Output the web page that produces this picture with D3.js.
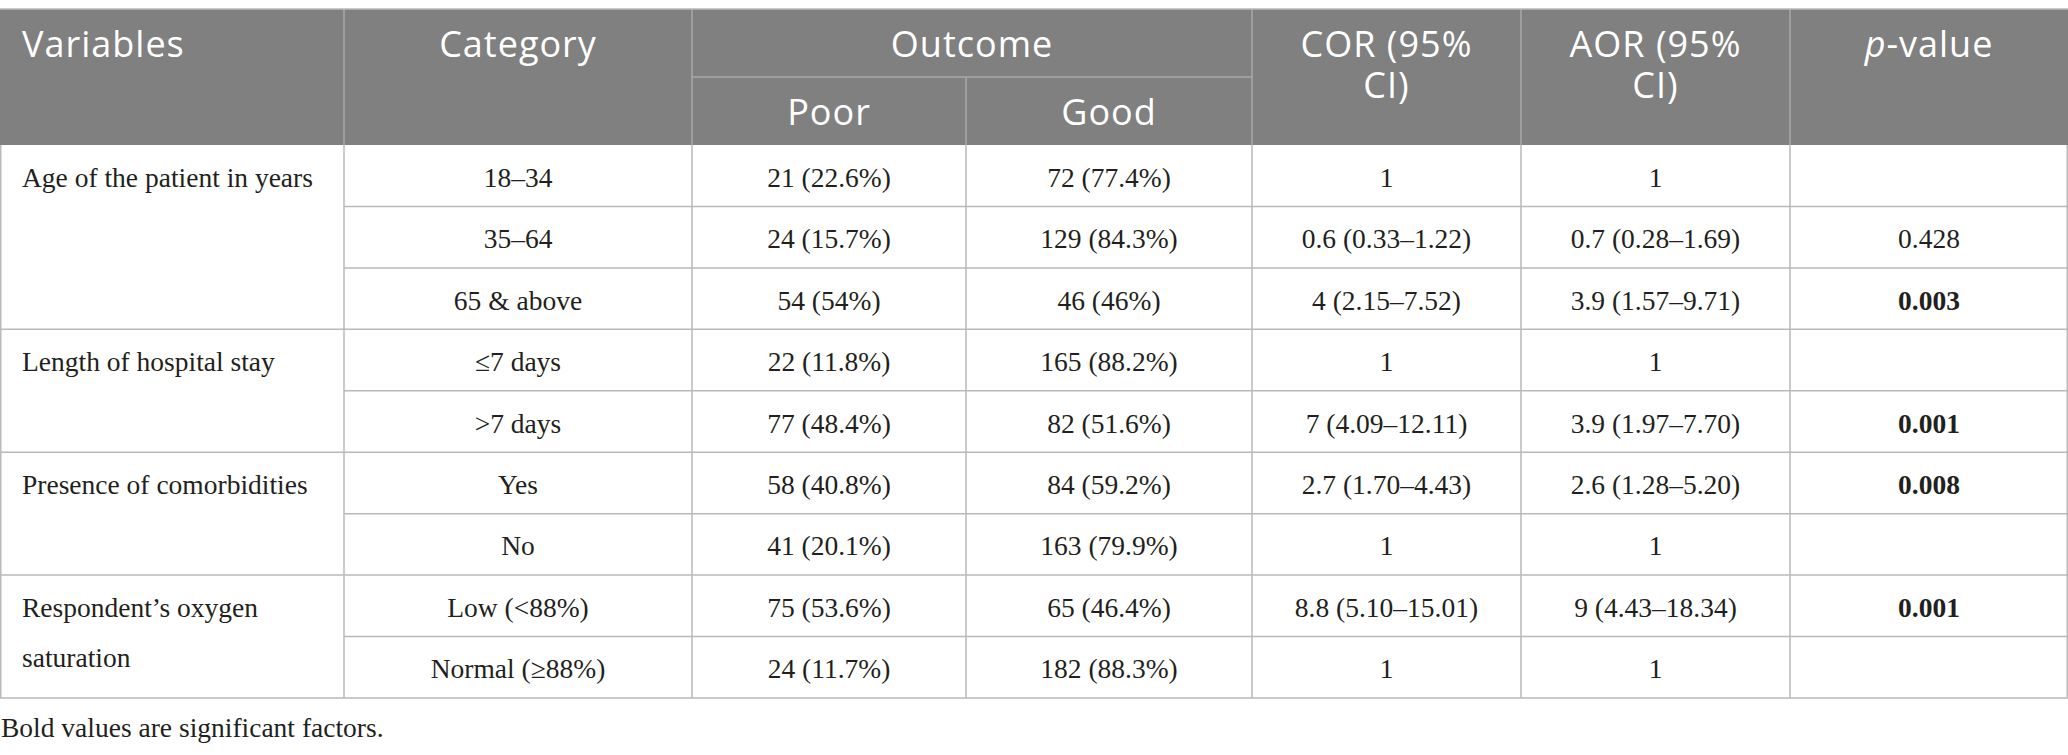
<!DOCTYPE html>
<html>
<head>
<meta charset="utf-8">
<script src="https://cdn.jsdelivr.net/npm/d3@7"></script>
<style>
  html, body { margin: 0; padding: 0; background: #fff; }
  .hdr { font-family: "Open Sans", sans-serif; fill: #fff; font-size: 36px; letter-spacing: 1px; }
  .cell { font-family: "Liberation Serif", serif; fill: #231f20; font-size: 27.5px; }
  .sig { font-weight: bold; }
</style>
</head>
<body>
<div id="table"></div>
<script>
// Table data
const variables = ["Age of the patient in years", "Length of hospital stay", "Presence of comorbidities", "Respondent\u2019s oxygen saturation"];
const groupSizes = [3, 2, 2, 2];
const categories = ["18\u201334", "35\u201364", "65 & above", "\u22647 days", ">7 days", "Yes", "No", "Low (<88%)", "Normal (\u226588%)"];
const poor = ["21 (22.6%)", "24 (15.7%)", "54 (54%)", "22 (11.8%)", "77 (48.4%)", "58 (40.8%)", "41 (20.1%)", "75 (53.6%)", "24 (11.7%)"];
const good = ["72 (77.4%)", "129 (84.3%)", "46 (46%)", "165 (88.2%)", "82 (51.6%)", "84 (59.2%)", "163 (79.9%)", "65 (46.4%)", "182 (88.3%)"];
const cor = ["1", "0.6 (0.33\u20131.22)", "4 (2.15\u20137.52)", "1", "7 (4.09\u201312.11)", "2.7 (1.70\u20134.43)", "1", "8.8 (5.10\u201315.01)", "1"];
const aor = ["1", "0.7 (0.28\u20131.69)", "3.9 (1.57\u20139.71)", "1", "3.9 (1.97\u20137.70)", "2.6 (1.28\u20135.20)", "1", "9 (4.43\u201318.34)", "1"];
const pValues = ["", "0.428", "0.003", "", "0.001", "0.008", "", "0.001", ""];
const significant = [false, false, true, false, true, true, false, true, false];
const footnote = "Bold values are significant factors.";

const width = 2068;
const height = 755;
const colEdges = [0, 344, 692, 966, 1252, 1521, 1790, 2068];
const headTop = 9, headMid = 77, headBottom = 145, bodyBottom = 698;
const lineColor = "#b9b9b9";

const svg = d3.select("#table")
    .append("svg")
    .attr("width", width)
    .attr("height", height);

const y = d3.scaleLinear()
    .domain([0, categories.length])
    .range([headBottom, bodyBottom]);

const colCenter = i => (colEdges[i] + colEdges[i + 1]) / 2;

// Header background
svg.append("rect")
    .attr("x", 0).attr("y", headTop)
    .attr("width", width).attr("height", headBottom - headTop)
    .attr("fill", "#7f807f");

// Header inner lines
const hdrLine = (x1, y1, x2, y2) => svg.append("line")
    .attr("x1", x1).attr("y1", y1).attr("x2", x2).attr("y2", y2)
    .attr("stroke", "#a9a9a9").attr("stroke-width", 1.5);
[1, 2, 4, 5, 6].forEach(i => hdrLine(colEdges[i], headTop, colEdges[i], headBottom));
hdrLine(colEdges[3], headMid, colEdges[3], headBottom);
hdrLine(colEdges[2], headMid, colEdges[4], headMid);
svg.append("line")
    .attr("x1", 0).attr("x2", width).attr("y1", headTop).attr("y2", headTop)
    .attr("stroke", lineColor).attr("stroke-width", 1.5);

// Header text
const hdrText = (x, yy, txt, anchor) => svg.append("text")
    .attr("class", "hdr")
    .attr("x", x).attr("y", yy)
    .attr("text-anchor", anchor || "middle")
    .text(txt);
hdrText(22, 57, "Variables", "start");
hdrText(colCenter(1), 57, "Category");
hdrText((colEdges[2] + colEdges[4]) / 2, 57, "Outcome");
hdrText(colCenter(2), 125, "Poor");
hdrText(colCenter(3), 125, "Good");

// wrapped header cells, one text each
[4, 5].forEach(c => {
    const t = hdrText(colCenter(c), 57, "");
    t.append("tspan").attr("x", colCenter(c)).text(c === 4 ? "COR (95%" : "AOR (95%");
    t.append("tspan").attr("x", colCenter(c)).attr("dy", 41).text("CI)");
});
const pv = hdrText(colCenter(6), 57, "");
pv.append("tspan").attr("font-style", "italic").text("p");
pv.append("tspan").text("-value");

// Body grid
const bodyLine = (x1, y1, x2, y2) => svg.append("line")
    .attr("x1", x1).attr("y1", y1).attr("x2", x2).attr("y2", y2)
    .attr("stroke", lineColor).attr("stroke-width", 1.5);

let groupStarts = [];
let acc = 0;
groupSizes.forEach(n => { groupStarts.push(acc); acc += n; });

for (let r = 1; r < categories.length; r++) {
    const x1 = groupStarts.includes(r) ? 0 : colEdges[1];
    bodyLine(x1, y(r), width, y(r));
}
bodyLine(0, bodyBottom, width, bodyBottom);
colEdges.forEach((cx, i) => {
    const xx = i === colEdges.length - 1 ? width - 0.75 : (i === 0 ? 0.75 : cx);
    bodyLine(xx, headBottom, xx, bodyBottom);
});

// Body text
const rowMid = r => (y(r) + y(r + 1)) / 2 + 11;
const cols = [categories, poor, good, cor, aor, pValues];
cols.forEach((values, c) => {
    svg.selectAll(null)
        .data(values)
        .enter()
        .append("text")
        .attr("class", (d, i) => c === 5 && significant[i] ? "cell sig" : "cell")
        .attr("x", colCenter(c + 1))
        .attr("y", (d, i) => rowMid(i))
        .attr("text-anchor", "middle")
        .text(d => d);
});

// Variable labels (last one wraps onto two lines)
variables.forEach((v, g) => {
    const r = groupStarts[g];
    const t = svg.append("text")
        .attr("class", "cell")
        .attr("x", 22)
        .attr("y", rowMid(r));
    if (g === variables.length - 1) {
        t.append("tspan").attr("x", 22).text("Respondent\u2019s oxygen");
        t.append("tspan").attr("x", 22).attr("dy", 50).text("saturation");
    } else {
        t.text(v);
    }
});

// Footnote
svg.append("text")
    .attr("class", "cell")
    .attr("x", 1)
    .attr("y", 737)
    .text(footnote);
</script>
</body>
</html>
